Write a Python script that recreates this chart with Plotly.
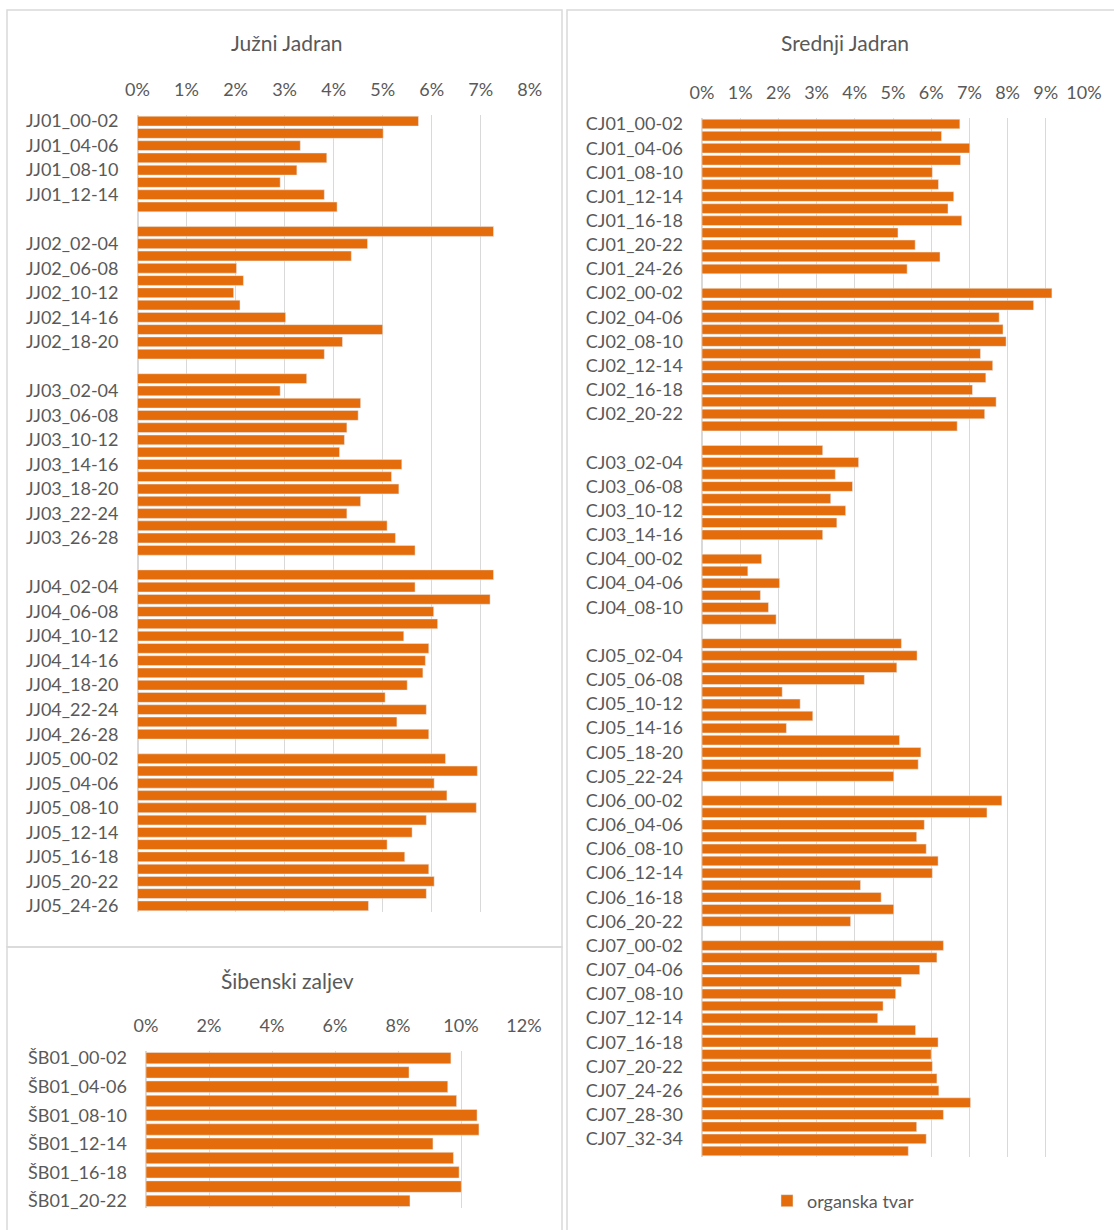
import plotly.graph_objects as go

# organska tvar (%), values per station, 2 cm depth steps from 00-02
jj01 = [5.73, 5.01, 3.32, 3.86, 3.25, 2.91, 3.81, 4.07]
jj02 = [7.26, 4.69, 4.36, 2.02, 2.16, 1.96, 2.09, 3.02, 5.00, 4.18, 3.81]
jj03 = [3.45, 2.91, 4.55, 4.50, 4.27, 4.22, 4.12, 5.39, 5.18, 5.33, 4.55, 4.27, 5.09, 5.26, 5.66]
jj04 = [7.26, 5.66, 7.19, 6.04, 6.12, 5.43, 5.94, 5.87, 5.82, 5.50, 5.05, 5.89, 5.29, 5.94]
jj05 = [6.28, 6.93, 6.05, 6.31, 6.91, 5.89, 5.60, 5.09, 5.45, 5.94, 6.05, 5.89, 4.71]

cj01 = [6.75, 6.27, 7.01, 6.77, 6.03, 6.19, 6.59, 6.44, 6.80, 5.13, 5.58, 6.23, 5.37]
cj02 = [9.16, 8.68, 7.78, 7.88, 7.96, 7.29, 7.61, 7.43, 7.08, 7.70, 7.40, 6.68]
cj03 = [3.16, 4.10, 3.49, 3.94, 3.37, 3.76, 3.53, 3.16]
cj04 = [1.56, 1.20, 2.03, 1.53, 1.74, 1.94]
cj05 = [5.22, 5.63, 5.10, 4.25, 2.10, 2.57, 2.90, 2.21, 5.17, 5.73, 5.66, 5.02]
cj06 = [7.85, 7.46, 5.82, 5.62, 5.87, 6.18, 6.03, 4.15, 4.69, 5.02, 3.89]
cj07 = [6.32, 6.15, 5.70, 5.22, 5.07, 4.74, 4.60, 5.59, 6.18, 6.00, 6.03, 6.15, 6.20, 7.03, 6.32, 5.62, 5.87, 5.40]

sb01 = [9.68, 8.35, 9.58, 9.86, 10.51, 10.57, 9.11, 9.76, 9.94, 10.01, 8.38]

ORANGE = "#E46C0A"
GREY = "#595959"
GRID = "#D9D9D9"
FONT = "Lato, sans-serif"
W, H = 1114, 1230


def station(name, vals):
    cats = [f"{name}_{2*i:02d}-{2*i+2:02d}" for i in range(len(vals))]
    return cats, list(vals)


def build(groups, gaps):
    cats, vals = [], []
    nb = 0
    for k, (name, v) in enumerate(groups):
        c, vv = station(name, v)
        cats += c
        vals += vv
        if gaps[k]:
            nb += 1
            cats.append(" " * nb)
            vals.append(None)
    return cats, vals


left_cats, left_vals = build(
    [("JJ01", jj01), ("JJ02", jj02), ("JJ03", jj03), ("JJ04", jj04), ("JJ05", jj05)],
    [1, 1, 1, 1, 0])
right_cats, right_vals = build(
    [("CJ01", cj01), ("CJ02", cj02), ("CJ03", cj03), ("CJ04", cj04),
     ("CJ05", cj05), ("CJ06", cj06), ("CJ07", cj07)],
    [1, 1, 1, 1, 1, 1, 0])
sb_cats, sb_vals = build([("ŠB01", sb01)], [0])


def px(x):
    return x / W


def py(y):
    return 1 - y / H


fig = go.Figure()
fig.add_trace(go.Bar(x=left_vals, y=left_cats, orientation="h", marker_color=ORANGE,
                     name="organska tvar", showlegend=False, xaxis="x", yaxis="y"))
fig.add_trace(go.Bar(x=right_vals, y=right_cats, orientation="h", marker_color=ORANGE,
                     name="organska tvar", showlegend=True, xaxis="x2", yaxis="y2"))
fig.add_trace(go.Bar(x=sb_vals, y=sb_cats, orientation="h", marker_color=ORANGE,
                     name="organska tvar", showlegend=False, xaxis="x3", yaxis="y3"))


def xax(dom, rng, dt, anchor):
    return dict(domain=dom, range=rng, dtick=dt, side="top", ticksuffix="%",
                showgrid=True, gridcolor=GRID, gridwidth=1, zeroline=True,
                zerolinecolor=GRID, showline=False, anchor=anchor, automargin=False,
                tickfont=dict(size=18, color=GREY, family=FONT),
                ticklabelstandoff=14, fixedrange=True)


def yax(dom, cats, anchor):
    n = len(cats)
    return dict(domain=dom, type="category", categoryorder="array", categoryarray=cats,
                range=[n - 0.5, -0.5], tickvals=cats[::2],
                ticktext=[c.strip() for c in cats[::2]], showgrid=False,
                showline=False, anchor=anchor, ticklabelstandoff=18, automargin=False,
                tickfont=dict(size=18, color=GREY, family=FONT), fixedrange=True)


fig.update_layout(
    width=W, height=H,
    margin=dict(l=0, r=0, t=0, b=0, autoexpand=False),
    paper_bgcolor="white", plot_bgcolor="white",
    bargap=0.2,
    font=dict(family=FONT, color=GREY),
    xaxis=xax([px(137.5), px(529.8)], [0, 8], 1, "y"),
    yaxis=yax([py(912), py(115)], left_cats, "x"),
    xaxis2=xax([px(702), px(1084)], [0, 10], 1, "y2"),
    yaxis2=yax([py(1157), py(118)], right_cats, "x2"),
    xaxis3=xax([px(146), px(524)], [0, 12], 2, "y3"),
    yaxis3=yax([py(1208), py(1051)], sb_cats, "x3"),
    legend=dict(orientation="h", x=px(843), xanchor="center", y=py(1201),
                yanchor="middle", itemwidth=30,
                font=dict(size=18, color=GREY, family=FONT)),
)

for txt, x, y in [("Južni Jadran", 287, 43), ("Srednji Jadran", 845, 43),
                  ("Šibenski zaljev", 287, 980)]:
    fig.add_annotation(text=txt, x=px(x), y=py(y), xref="paper", yref="paper",
                       showarrow=False, xanchor="center", yanchor="middle",
                       font=dict(size=21, color=GREY, family=FONT))

# chart borders
for x0, y0, x1, y1 in [(7, 10, 562, 947), (7, 947, 562, 1232), (567, 10, 1116, 1232)]:
    fig.add_shape(type="rect", xref="paper", yref="paper",
                  x0=px(x0), y0=py(y0), x1=px(x1), y1=py(y1),
                  line=dict(color=GRID, width=1.5), layer="below")

fig.write_html("out.html", config={"displayModeBar": False},
               post_script="document.body.style.margin='0px';")
